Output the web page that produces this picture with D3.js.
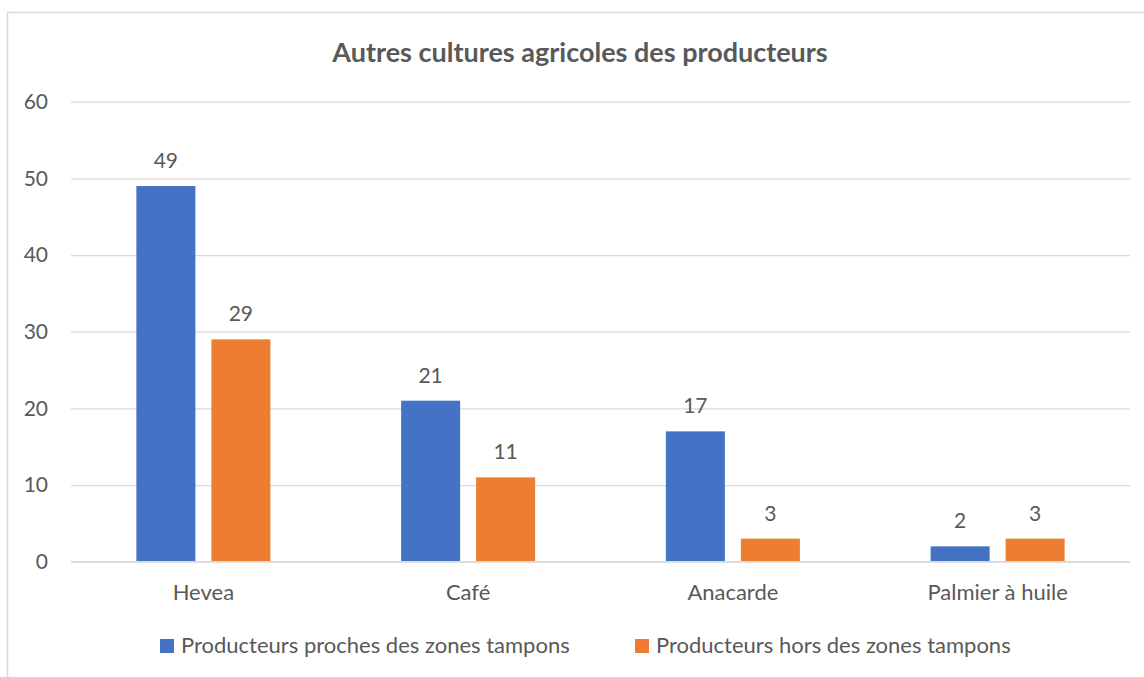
<!DOCTYPE html>
<html><head><meta charset="utf-8">
<script src="https://cdn.jsdelivr.net/npm/d3@7"></script>
<style>
html,body{margin:0;padding:0;background:#fff;}
text{font-family:Lato,"Open Sans",sans-serif;fill:#595959;}
</style></head>
<body>
<svg id="chart" width="1144" height="677"></svg>
<script>
const categories = ["Hevea", "Café", "Anacarde", "Palmier à huile"];
const seriesNames = ["Producteurs proches des zones tampons", "Producteurs hors des zones tampons"];
const seriesProches = [49, 21, 17, 2];
const seriesHors = [29, 11, 3, 3];
const yTicks = [0, 10, 20, 30, 40, 50, 60];
const colors = ["#4472C4", "#ED7D31"];
const title = "Autres cultures agricoles des producteurs";

(function(){
const svg = d3.select("#chart");
svg.append("rect").attr("x", 7.5).attr("y", 12.5).attr("width", 1150).attr("height", 700)
  .attr("fill", "none").attr("stroke", "#d9d9d9").attr("stroke-width", 1.5);

const pl = 71, pr = 1130, pt = 101.7, pb = 561.7;
const y = d3.scaleLinear().domain([0, 60]).range([pb, pt]);
const x0 = d3.scaleBand().domain(categories).range([pl, pr]).padding(0);
const groupW = 134;
const x1 = d3.scaleBand().domain(seriesNames).range([0, groupW]).paddingInner(16/75).paddingOuter(0);

const yAxis = d3.axisLeft(y).tickValues(yTicks).tickSize(-(pr - pl)).tickPadding(23).tickFormat(d3.format("d"));
const gy = svg.append("g").attr("transform", `translate(${pl},0)`).call(yAxis);
gy.select(".domain").remove();
gy.selectAll(".tick line").attr("stroke", "#d9d9d9").attr("stroke-width", 1.3);
gy.selectAll(".tick text").style("font-size", "21px").attr("fill", "#595959");

const data = categories.map((c, i) => ({cat: c, vals: [seriesProches[i], seriesHors[i]]}));
const groups = svg.append("g").selectAll("g").data(data).join("g")
  .attr("transform", d => `translate(${x0(d.cat) + (x0.bandwidth() - groupW) / 2},0)`);
groups.selectAll("rect").data(d => d.vals.map((v, j) => ({s: seriesNames[j], v, j}))).join("rect")
  .attr("x", d => x1(d.s)).attr("width", x1.bandwidth())
  .attr("y", d => y(d.v)).attr("height", d => y(0) - y(d.v))
  .attr("fill", d => colors[d.j]);
groups.selectAll("text.lbl").data(d => d.vals.map((v, j) => ({s: seriesNames[j], v, j}))).join("text")
  .attr("class", "lbl")
  .attr("x", d => x1(d.s) + x1.bandwidth() / 2).attr("y", d => y(d.v) - 18)
  .attr("text-anchor", "middle").style("font-size", "21px").text(d => d.v);

svg.append("line").attr("x1", pl).attr("x2", pr).attr("y1", y(0)).attr("y2", y(0))
  .attr("stroke", "#d9d9d9").attr("stroke-width", 1.5);

const xAxis = d3.axisBottom(x0).tickSize(0).tickPadding(23);
const gx = svg.append("g").attr("transform", `translate(0,${pb})`).call(xAxis);
gx.select(".domain").remove();
gx.selectAll(".tick text").style("font-size", "22px").attr("fill", "#595959");

svg.append("text").attr("x", 580).attr("y", 61.5).attr("text-anchor", "middle")
  .style("font-size", "27px").style("font-weight", "bold").text(title);

const legendX = [160, 635];
const lg = svg.append("g").selectAll("g").data(seriesNames).join("g")
  .attr("transform", (d, i) => `translate(${legendX[i]},639)`);
lg.append("rect").attr("width", 14).attr("height", 14).attr("fill", (d, i) => colors[i]);
lg.append("text").attr("x", 21).attr("y", 14).style("font-size", "22px").text(d => d);
})();
</script>
</body></html>
